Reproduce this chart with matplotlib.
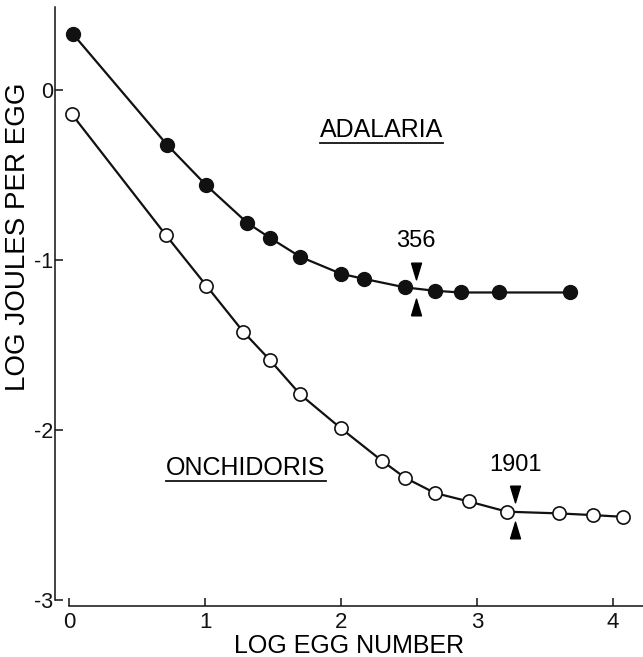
import numpy as np
import matplotlib
matplotlib.use("Agg")
import matplotlib.pyplot as plt
from matplotlib.lines import Line2D
from matplotlib.transforms import offset_copy

plt.rcParams['font.family'] = ['Liberation Sans', 'DejaVu Sans']

# Adalaria (filled circles)
adal_x = [0.03, 0.72, 1.01, 1.31, 1.48, 1.70, 2.00, 2.17, 2.47, 2.69, 2.88, 3.16, 3.68]
adal_y = [0.33, -0.32, -0.56, -0.78, -0.87, -0.98, -1.08, -1.11, -1.16, -1.18, -1.19, -1.19, -1.19]

# Onchidoris (open circles)
onch_x = [0.02, 0.71, 1.01, 1.28, 1.48, 1.70, 2.00, 2.30, 2.47, 2.69, 2.94, 3.22, 3.60, 3.85, 4.07]
onch_y = [-0.14, -0.85, -1.15, -1.42, -1.59, -1.79, -1.99, -2.18, -2.28, -2.37, -2.42, -2.48, -2.49, -2.50, -2.51]

# marked egg numbers
marks = [356, 1901]

xticks = [0, 1, 2, 3, 4]
yticks = [0, -1, -2, -3]

fig = plt.figure(figsize=(6.43, 6.57), dpi=100)
ax = fig.add_axes([55/643, 51/657, 588/643, 599/657])

ax.plot(adal_x, adal_y, '-', color='#111111', lw=1.6, marker='o', ms=10,
        mfc='#111111', mec='#111111', zorder=3)
ax.plot(onch_x, onch_y, '-', color='#111111', lw=1.6, marker='o', ms=9.5,
        mfc='white', mec='#111111', mew=1.2, zorder=3)

ax.set_xlim(-0.103, 4.22)
ax.set_ylim(-3.035, 0.49)

for s in ['top', 'right']:
    ax.spines[s].set_visible(False)
ax.spines['left'].set_bounds(-3, 0.49)
ax.spines['bottom'].set_bounds(0, 4.22)
for s in ['left', 'bottom']:
    ax.spines[s].set_linewidth(1.1)
    ax.spines[s].set_color('#111111')

ax.set_xticks(xticks)
ax.set_yticks(yticks)
ax.set_xticklabels([str(t) for t in xticks])
ax.set_yticklabels([str(t) for t in yticks])
ax.tick_params(direction='in', length=6, width=1.1, labelsize=16, colors='#111111')
ax.tick_params(axis='y', pad=1, labelsize=15.5)
ax.tick_params(axis='x', pad=4)

ax.set_xlabel('LOG EGG NUMBER', fontsize=18)
ax.xaxis.set_label_coords(0.5, -0.046)
ax.set_ylabel('LOG JOULES PER EGG', fontsize=20)
ax.yaxis.set_label_coords(-0.04, 0.616)

# arrow heads marking egg numbers
tri_down = [(-0.3, 0.5), (0.3, 0.5), (0.0, -0.5), (-0.3, 0.5)]
tri_up = [(-0.3, -0.5), (0.3, -0.5), (0.0, 0.5), (-0.3, -0.5)]
curves = [(adal_x, adal_y), (onch_x, onch_y)]
for n, (cx, cy) in zip(marks, curves):
    lx = np.log10(n)
    ly = np.interp(lx, cx, cy)
    above = offset_copy(ax.transData, fig=fig, x=0, y=13, units='points')
    below = offset_copy(ax.transData, fig=fig, x=0, y=-13, units='points')
    ax.plot([lx], [ly], marker=tri_down, ms=12, color='black', transform=above, zorder=4)
    ax.plot([lx], [ly], marker=tri_up, ms=12, color='black', transform=below, zorder=4)
    lab = offset_copy(ax.transData, fig=fig, x=0, y=34, units='points')
    ax.text(lx, ly, str(n), transform=lab, ha='center', va='center', fontsize=17)

t1 = ax.text(2.30, -0.235, 'ADALARIA', ha='center', va='center', fontsize=18)
t2 = ax.text(1.30, -2.22, 'ONCHIDORIS', ha='center', va='center', fontsize=18)

fig.canvas.draw()
r = fig.canvas.get_renderer()
for t in [t1, t2]:
    bb = t.get_window_extent(r)
    y0 = bb.y0 - 1
    fig.add_artist(Line2D([bb.x0 / fig.bbox.width, bb.x1 / fig.bbox.width],
                          [y0 / fig.bbox.height, y0 / fig.bbox.height],
                          transform=fig.transFigure, color='#111111', lw=1.3))

fig.savefig('out.png', dpi=100)
